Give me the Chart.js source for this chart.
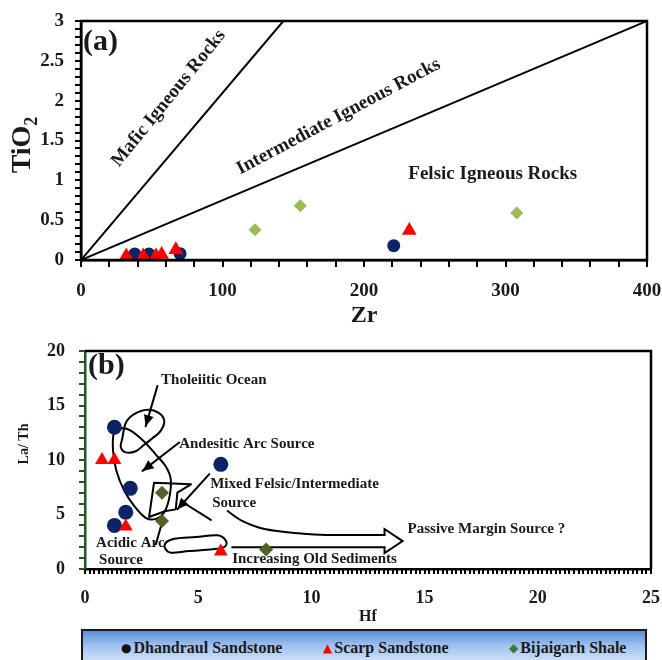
<!DOCTYPE html>
<html>
<head>
<meta charset="utf-8">
<script src="https://cdn.jsdelivr.net/npm/chart.js@4.4.1/dist/chart.umd.min.js"></script>
<style>
  html, body { margin: 0; padding: 0; background: #fff; }
  #wrap { position: relative; width: 662px; height: 660px; overflow: hidden; font-family: 'Liberation Serif', 'Times New Roman', serif; }
  #chartA { position: absolute; left: 0; top: 0; }
  #chartB { position: absolute; left: 0; top: 335px; }
  #legend {
    position: absolute; left: 81px; top: 629px; width: 562px; height: 40px;
    border: 2px solid #1a1a1a;
    background: linear-gradient(to bottom, #5b8ed8 0%, #9dc0ee 35%, #cfe1f8 75%, #c3d8f5 100%);
  }
  .item { position: absolute; top: 6px; line-height: 22px; font-weight: bold; font-size: 16px; color: #1a1a1a; white-space: nowrap; }
  .mk { display: inline-block; margin-right: 2px; font-family: 'DejaVu Sans', sans-serif; font-size: 12px; vertical-align: top; }
</style>
</head>
<body>
<div id="wrap">
  <canvas id="chartA" width="662" height="330"></canvas>
  <canvas id="chartB" width="662" height="290"></canvas>
  <div id="legend"></div>
</div>
<script>
const SERIF = "'Liberation Serif', 'Times New Roman', serif";

// series
const seriesNames = ['Dhandraul Sandstone', 'Scarp Sandstone', 'Bijaigarh Shale'];

// Panel (a): TiO2 vs Zr
const zrDhandraul = [38, 48, 70, 221];
const tiDhandraul = [0.075, 0.075, 0.08, 0.18];
const zrScarp = [32, 44, 53, 57, 67, 232];
const tiScarp = [0.05, 0.05, 0.05, 0.07, 0.13, 0.37];
const zrBijaigarh = [123, 155, 308];
const tiBijaigarh = [0.38, 0.68, 0.59];
const maficLine = [[0, 0], [143, 3]];
const felsicLine = [[0, 0], [400, 3]];
const zrTicks = [0, 100, 200, 300, 400];
const tiTicks = [0, 0.5, 1, 1.5, 2, 2.5, 3];

// Panel (b): La/Th vs Hf
const hfDhandraul = [1.3, 6.0, 2.0, 1.8, 1.3];
const lathDhandraul = [13.0, 9.6, 7.4, 5.2, 4.0];
const hfScarp = [0.75, 1.3, 1.8, 6.0];
const lathScarp = [10.0, 10.0, 3.9, 1.6];
const hfBijaigarh = [3.4, 3.4, 8.0];
const lathBijaigarh = [7.0, 4.4, 1.8];
const hfTicks = [0, 5, 10, 15, 20, 25];
const lathTicks = [0, 5, 10, 15, 20];

// Panel (b) sketched fields, in (Hf, La/Th)
const tholeiiticLoop = [[1.8, 13.4], [2.17, 14.2], [2.76, 14.6], [3.27, 14.3], [3.5, 13.6], [3.35, 12.7], [2.98, 12.0], [2.61, 11.4], [2.24, 10.8], [1.8, 10.7], [1.58, 11.2], [1.65, 12.0]];
const andesiticLoop = [[1.28, 12.5], [1.58, 12.9], [2.02, 12.7], [2.61, 11.7], [3.13, 10.5], [3.57, 9.4], [3.79, 8.2], [3.72, 6.5], [3.5, 5.2], [3.13, 4.6], [2.68, 4.7], [2.17, 5.8], [1.73, 7.2], [1.39, 9.0], [1.24, 10.8]];
const acidicLoop = [[3.57, 2.41], [3.94, 2.78], [4.9, 2.94], [5.86, 3.09], [6.23, 2.57], [6.15, 2.02], [5.63, 1.81], [4.6, 1.65], [3.79, 1.5], [3.54, 1.9]];
const mixedPolygon = [[3.05, 7.92], [4.68, 7.77], [4.08, 7.0], [4.01, 5.47], [3.57, 5.32], [2.83, 4.77]];
const plainLines = [[[3.42, 4.4], [3.13, 2.27]], [[4.23, 6.24], [5.56, 4.5]]];
const arrowLines = [[[3.2, 16.8], [2.68, 13.1]], [[4.16, 11.6], [2.54, 9.0]], [[5.49, 8.7], [4.08, 5.48]]];
const passiveCurve = [[6.3, 5.32], [6.96, 4.4], [7.99, 3.64], [9.47, 3.27], [10.65, 3.12], [13.23, 3.12]];
const oldSedLine = [[6.5, 2.0], [13.23, 2.0]];
const hollowHead = [[13.23, 3.12], [13.23, 3.67], [14.03, 2.56], [13.23, 1.45], [13.23, 2.0]];

// labels
const fieldNotesA = [
  ['Mafic Igneous Rocks', 62, 2.03, -51],
  ['Intermediate Igneous Rocks', 182, 1.8, -28],
  ['Felsic Igneous Rocks', 291, 1.08, 0]
];
const fieldNotesB = [
  ['Tholeiitic Ocean', 3.36, 17.3],
  ['Andesitic Arc Source', 4.16, 11.5],
  ['Mixed Felsic/Intermediate', 5.53, 7.8],
  ['Source', 5.62, 6.06],
  ['Acidic Arc', 0.49, 2.39],
  ['Source', 0.62, 0.83],
  ['Increasing Old Sediments', 6.5, 0.92],
  ['Passive Margin Source ?', 14.25, 3.67]
];

const colDhandraul = '#0b2465';
const colScarp = '#ff0000';
const colBijaigarhA = '#9bbb59';
const colBijaigarhB = '#4f6228';
const axisGreen = '#1f5a22';

function pts(xs, ys) { return xs.map((x, i) => ({ x, y: ys[i] })); }
function seg(p) { return p.map(([x, y]) => ({ x, y })); }
function font(size) { return { family: SERIF, size, weight: 'bold' }; }
function toPx(chart, p) { return [chart.scales.x.getPixelForValue(p[0]), chart.scales.y.getPixelForValue(p[1])]; }
function near(v, list) { return list.some(t => Math.abs(v - t) < 1e-6); }

function spline(ctx, p, closed) {
  const n = p.length;
  ctx.moveTo(p[0][0], p[0][1]);
  const last = closed ? n : n - 1;
  for (let i = 0; i < last; i++) {
    const p0 = p[closed ? (i - 1 + n) % n : Math.max(i - 1, 0)];
    const p1 = p[i];
    const p2 = p[(i + 1) % n];
    const p3 = p[closed ? (i + 2) % n : Math.min(i + 2, n - 1)];
    ctx.bezierCurveTo(p1[0] + (p2[0] - p0[0]) / 6, p1[1] + (p2[1] - p0[1]) / 6,
      p2[0] - (p3[0] - p1[0]) / 6, p2[1] - (p3[1] - p1[1]) / 6, p2[0], p2[1]);
  }
}

function polyline(ctx, p, closed) {
  p.forEach((q, i) => i ? ctx.lineTo(q[0], q[1]) : ctx.moveTo(q[0], q[1]));
  if (closed) ctx.closePath();
}

function arrowHead(ctx, from, to) {
  const a = Math.atan2(to[1] - from[1], to[0] - from[0]);
  const len = 11, half = 5;
  ctx.beginPath();
  ctx.moveTo(to[0], to[1]);
  ctx.lineTo(to[0] - len * Math.cos(a) + half * Math.sin(a), to[1] - len * Math.sin(a) - half * Math.cos(a));
  ctx.lineTo(to[0] - len * Math.cos(a) - half * Math.sin(a), to[1] - len * Math.sin(a) + half * Math.cos(a));
  ctx.closePath();
  ctx.fill();
}

// short outward tick marks along the bottom and left axes
function tickMarks(chart, xLen, yLen, xColor, yColor) {
  const { ctx, chartArea: a, scales: { x, y } } = chart;
  ctx.save();
  ctx.lineWidth = 2;
  ctx.strokeStyle = xColor;
  ctx.beginPath();
  x.ticks.forEach(t => {
    const p = Math.round(x.getPixelForValue(t.value));
    ctx.moveTo(p, a.bottom);
    ctx.lineTo(p, a.bottom + xLen);
  });
  ctx.stroke();
  ctx.strokeStyle = yColor;
  ctx.beginPath();
  y.ticks.forEach(t => {
    const p = Math.round(y.getPixelForValue(t.value));
    ctx.moveTo(a.left - yLen, p);
    ctx.lineTo(a.left, p);
  });
  ctx.stroke();
  ctx.restore();
}

function scatterSet(label, data, style, radius, color, order) {
  return { label, data, pointStyle: style, pointRadius: radius, pointHoverRadius: radius,
    backgroundColor: color, pointBackgroundColor: color, borderWidth: 0, pointBorderWidth: 0, order };
}
function boundarySet(p) {
  return { data: seg(p), showLine: true, borderColor: '#000', borderWidth: 2, pointRadius: 0, order: 5 };
}

// fixed axis box so the plot area lands where the original has it
function fixX(h) { return s => { s.height = h; s.paddingLeft = 0; s.paddingRight = 0; }; }
function fixY(w) { return s => { s.width = w; s.paddingTop = 0; s.paddingBottom = 0; }; }

function axisOpts(min, max, step, labels, size, tickLen, pad, color, fit) {
  return {
    type: 'linear', min, max,
    afterFit: fit,
    ticks: { stepSize: step, autoSkip: false, maxRotation: 0, padding: pad, color: '#1a1a1a', font: font(size),
      callback: v => near(v, labels) ? String(v) : '' },
    grid: { drawOnChartArea: false, drawTicks: true, tickLength: tickLen, color, lineWidth: 2 },
    border: { display: true, color, width: 2.5 }
  };
}

const panelA = {
  id: 'panelA',
  afterDraw(chart) {
    const { ctx, chartArea: a } = chart;
    tickMarks(chart, 7, 6, '#000', '#000');
    ctx.save();
    ctx.strokeStyle = '#000';
    ctx.lineWidth = 2.5;
    ctx.strokeRect(a.left, a.top, a.right - a.left, a.bottom - a.top);
    ctx.fillStyle = '#1a1a1a';
    ctx.font = 'bold 19px ' + SERIF;
    ctx.textAlign = 'center';
    ctx.textBaseline = 'middle';
    fieldNotesA.forEach(([t, x, y, rot]) => {
      const q = toPx(chart, [x, y]);
      ctx.save();
      ctx.translate(q[0], q[1]);
      ctx.rotate(rot * Math.PI / 180);
      ctx.fillText(t, 0, 0);
      ctx.restore();
    });
    ctx.textAlign = 'left';
    ctx.font = 'bold 30px ' + SERIF;
    ctx.fillText('(a)', a.left + 2, a.top + 21);
    // axis titles
    ctx.textAlign = 'center';
    ctx.font = 'bold 24px ' + SERIF;
    ctx.fillText('Zr', (a.left + a.right) / 2, a.bottom + 56);
    ctx.save();
    ctx.translate(23, 145);
    ctx.rotate(-Math.PI / 2);
    ctx.font = 'bold 28px ' + SERIF;
    const w1 = ctx.measureText('TiO').width;
    ctx.font = 'bold 18px ' + SERIF;
    const w2 = ctx.measureText('2').width;
    ctx.textAlign = 'left';
    ctx.font = 'bold 28px ' + SERIF;
    ctx.fillText('TiO', -(w1 + w2) / 2, 0);
    ctx.font = 'bold 18px ' + SERIF;
    ctx.fillText('2', -(w1 + w2) / 2 + w1, 9);
    ctx.restore();
    ctx.restore();
  }
};

const panelB = {
  id: 'panelB',
  beforeDatasetsDraw(chart) {
    const ctx = chart.ctx;
    const P = p => toPx(chart, p);
    ctx.save();
    ctx.strokeStyle = '#000';
    ctx.fillStyle = '#000';
    ctx.lineWidth = 2;
    ctx.lineJoin = 'round';
    ctx.lineCap = 'round';
    [tholeiiticLoop, andesiticLoop, acidicLoop].forEach(loop => {
      ctx.beginPath(); spline(ctx, loop.map(P), true); ctx.stroke();
    });
    ctx.beginPath(); polyline(ctx, mixedPolygon.map(P), true); ctx.stroke();
    plainLines.forEach(l => { ctx.beginPath(); polyline(ctx, l.map(P), false); ctx.stroke(); });
    arrowLines.forEach(l => {
      const q = l.map(P);
      ctx.beginPath(); polyline(ctx, q, false); ctx.stroke();
      arrowHead(ctx, q[0], q[1]);
    });
    ctx.beginPath(); spline(ctx, passiveCurve.map(P), false); ctx.stroke();
    ctx.beginPath(); polyline(ctx, oldSedLine.map(P), false); ctx.stroke();
    ctx.lineJoin = 'miter';
    ctx.beginPath(); polyline(ctx, hollowHead.map(P), false); ctx.stroke();
    ctx.fillStyle = '#1a1a1a';
    ctx.font = 'bold 15px ' + SERIF;
    ctx.textAlign = 'left';
    ctx.textBaseline = 'middle';
    fieldNotesB.forEach(([t, x, y]) => {
      const q = P([x, y]);
      ctx.fillText(t, q[0], q[1]);
    });
    ctx.restore();
  },
  afterDraw(chart) {
    const { ctx, chartArea: a } = chart;
    tickMarks(chart, 5, 6, '#000', axisGreen);
    ctx.save();
    ctx.strokeStyle = '#000';
    ctx.lineWidth = 2.5;
    ctx.beginPath();
    ctx.moveTo(a.left, a.top);
    ctx.lineTo(a.right, a.top);
    ctx.lineTo(a.right, a.bottom);
    ctx.stroke();
    ctx.fillStyle = '#1a1a1a';
    ctx.textBaseline = 'middle';
    ctx.textAlign = 'left';
    ctx.font = 'bold 30px ' + SERIF;
    ctx.fillText('(b)', a.left + 3, a.top + 15);
    ctx.textAlign = 'center';
    ctx.font = 'bold 16px ' + SERIF;
    ctx.fillText('Hf', (a.left + a.right) / 2, a.bottom + 48);
    ctx.save();
    ctx.translate(24, a.top + 93);
    ctx.rotate(-Math.PI / 2);
    ctx.font = 'bold 14px ' + SERIF;
    ctx.fillText('La/ Th', 0, 0);
    ctx.restore();
    ctx.restore();
  }
};

const common = {
  responsive: false,
  animation: false,
  events: [],
  plugins: { legend: { display: false }, tooltip: { enabled: false } }
};

new Chart(document.getElementById('chartA'), {
  type: 'scatter',
  data: {
    datasets: [
      boundarySet(maficLine),
      boundarySet(felsicLine),
      scatterSet(seriesNames[0], pts(zrDhandraul, tiDhandraul), 'circle', 6.5, colDhandraul, 2),
      scatterSet(seriesNames[1], pts(zrScarp, tiScarp), 'triangle', 8.5, colScarp, 1),
      scatterSet(seriesNames[2], pts(zrBijaigarh, tiBijaigarh), 'rectRot', 6.5, colBijaigarhA, 0)
    ]
  },
  options: Object.assign({}, common, {
    layout: { padding: { left: 0, right: 15, top: 21, bottom: 0 } },
    scales: {
      x: axisOpts(0, 400, 20, zrTicks, 19, 7, 13, '#000', fixX(70)),
      y: axisOpts(0, 3, 0.1, tiTicks, 19, 6, 11, '#000', fixY(81))
    }
  }),
  plugins: [panelA]
});

new Chart(document.getElementById('chartB'), {
  type: 'scatter',
  data: {
    datasets: [
      scatterSet(seriesNames[0], pts(hfDhandraul, lathDhandraul), 'circle', 7.5, colDhandraul, 2),
      scatterSet(seriesNames[1], pts(hfScarp, lathScarp), 'triangle', 8, colScarp, 1),
      scatterSet(seriesNames[2], pts(hfBijaigarh, lathBijaigarh), 'rectRot', 7, colBijaigarhB, 0)
    ]
  },
  options: Object.assign({}, common, {
    layout: { padding: { left: 0, right: 11, top: 16, bottom: 0 } },
    scales: {
      x: axisOpts(0, 25, 0.2, hfTicks, 18, 5, 14, '#000', fixX(56)),
      y: axisOpts(0, 20, 1, lathTicks, 18, 6, 14, axisGreen, fixY(85))
    }
  }),
  plugins: [panelB]
});

// legend strip
const legendMarks = [
  ['\u25CF', '#111', 38],
  ['\u25B2', colScarp, 240],
  ['\u25C6', '#3d7a34', 426]
];
const legend = document.getElementById('legend');
seriesNames.forEach((name, i) => {
  const [glyph, color, left] = legendMarks[i];
  const item = document.createElement('span');
  item.className = 'item';
  item.style.left = left + 'px';
  const mk = document.createElement('span');
  mk.className = 'mk';
  mk.style.color = color;
  mk.textContent = glyph;
  item.appendChild(mk);
  item.appendChild(document.createTextNode(name));
  legend.appendChild(item);
});
</script>
</body>
</html>
